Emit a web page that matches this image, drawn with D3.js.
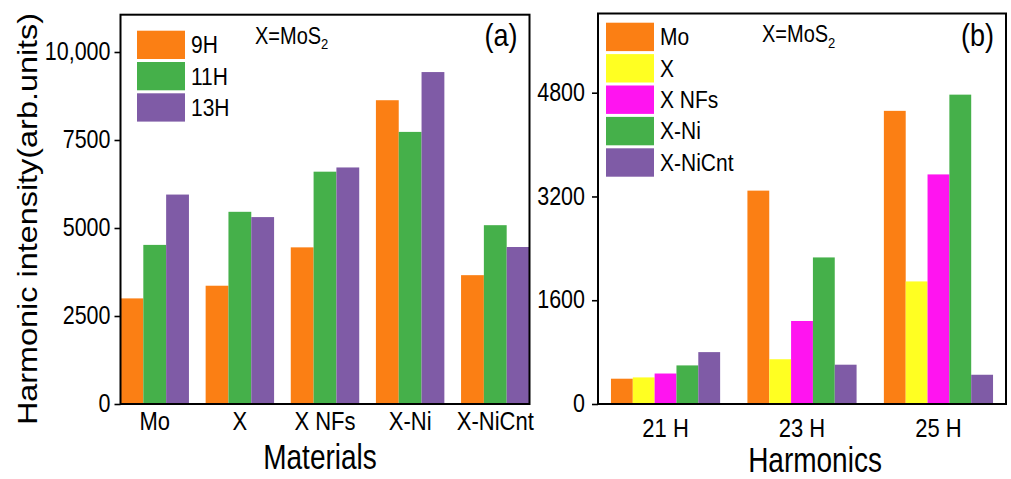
<!DOCTYPE html>
<html lang="en">
<head>
<meta charset="UTF-8">
<title>Harmonic intensity</title>
<style>
  body { margin: 0; background: #fff; }
  svg { display: block; font-family: "Liberation Sans", Arial, sans-serif; }
</style>
</head>
<body>
<svg id="chart" width="1011" height="479"></svg>
<script src="https://d3js.org/d3.v7.min.js"></script>
<script>
// panel (a): intensity per material
const materials = ["Mo", "X", "X NFs", "X-Ni", "X-NiCnt"];
const seriesA = ["9H", "11H", "13H"];
const h9 = [3000, 3360, 4450, 8630, 3660];
const h11 = [4520, 5460, 6600, 7730, 5080];
const h13 = [5950, 5310, 6720, 9430, 4460];
const ticksA = [0, 2500, 5000, 7500, 10000];

// panel (b): intensity per harmonic order
const harmonics = ["21 H", "23 H", "25 H"];
const seriesB = ["Mo", "X", "X NFs", "X-Ni", "X-NiCnt"];
const moVals = [390, 3290, 4520];
const xVals = [410, 690, 1890];
const xNFsVals = [470, 1280, 3540];
const xNiVals = [595, 2260, 4770];
const xNiCntVals = [800, 606, 451];
const ticksB = [0, 1600, 3200, 4800];

const orange = "#fb7f14", green = "#45b04a", purple = "#7f5ba6",
      yellow = "#ffff22", magenta = "#ff14f0";
const colorsA = [orange, green, purple];
const colorsB = [orange, yellow, magenta, green, purple];

const svg = d3.select("#chart");
const SY = 1.18; // the original figure is slightly stretched vertically

function stext(g, x, y, txt, size, anchor, sy) {
  return g.append("text")
    .attr("transform", `translate(${x},${y}) scale(1,${sy || SY})`)
    .attr("font-size", size)
    .attr("text-anchor", anchor || "start")
    .attr("fill", "#000")
    .text(txt);
}

function panel(opts) {
  const g = svg.append("g");
  const x0 = d3.scaleBand().domain(opts.cats).range(opts.xr)
    .paddingInner(opts.pi).paddingOuter(opts.po);
  const x1 = d3.scaleBand().domain(opts.series).range([0, x0.bandwidth()]);
  const y = d3.scaleLinear().domain(opts.yd).range(opts.yr);

  const rows = opts.cats.map((c, i) => ({cat: c, vals: opts.values.map(v => v[i])}));
  const grp = g.selectAll("g.grp").data(rows).join("g")
    .attr("transform", d => `translate(${x0(d.cat)},0)`);
  grp.selectAll("rect").data(d => d.vals.map((v, j) => ({s: opts.series[j], v, j})))
    .join("rect")
    .attr("x", d => x1(d.s))
    .attr("width", x1.bandwidth())
    .attr("y", d => y(d.v))
    .attr("height", d => y(0) - y(d.v))
    .attr("fill", d => opts.colors[d.j]);

  // frame
  g.append("rect")
    .attr("x", opts.xr[0]).attr("y", opts.top)
    .attr("width", opts.xr[1] - opts.xr[0]).attr("height", y(0) - opts.top)
    .attr("fill", "none").attr("stroke", "#000").attr("stroke-width", 2);

  // y axis
  const ya = g.append("g").attr("transform", `translate(${opts.xr[0]},0)`)
    .call(d3.axisLeft(y).tickValues(opts.ticks).tickSize(6).tickSizeOuter(0)
      .tickPadding(opts.tpad).tickFormat(opts.fmt));
  ya.select(".domain").remove();
  ya.selectAll("line").attr("stroke", "#000").attr("stroke-width", 1.6);
  ya.selectAll("text").attr("font-size", 21.5).attr("fill", "#000")
    .attr("font-family", "Liberation Sans, Arial, sans-serif")
    .attr("transform", `scale(1,${SY})`).attr("dy", "0.3em");

  // x axis labels
  const xa = g.append("g").attr("transform", `translate(0,${y(0)})`)
    .call(d3.axisBottom(x0).tickSize(0).tickPadding(opts.xpad));
  xa.select(".domain").remove();
  xa.selectAll("text").attr("font-size", 22).attr("fill", "#000")
    .attr("font-family", "Liberation Sans, Arial, sans-serif")
    .attr("transform", `scale(1,${SY})`);

  // legend
  const lg = g.append("g");
  opts.series.forEach((s, i) => {
    const ty = opts.leg[1] + i * opts.leg[2];
    lg.append("rect").attr("x", opts.leg[0]).attr("y", ty)
      .attr("width", 48).attr("height", opts.leg[2] - 3)
      .attr("fill", opts.colors[i]);
    stext(lg, opts.leg[0] + 54, ty + 22.5, s, 21, "start", 1.1);
  });

  // annotation X=MoS2
  const t = g.append("text")
    .attr("transform", `translate(${opts.note[0]},${opts.note[1]}) scale(1,${SY})`)
    .attr("font-size", 20).attr("fill", "#000");
  t.append("tspan").text("X=MoS");
  t.append("tspan").attr("font-size", 13).attr("dy", 5).text("2");

  // panel letter
  stext(g, opts.xr[1] - 12, 46, opts.letter, 27, "end");

  // x title
  stext(g, opts.title[0], opts.title[1], opts.title[2], 28, "middle", 1.22);
  return g;
}

panel({
  cats: materials, series: seriesA, values: [h9, h11, h13], colors: colorsA,
  xr: [120.5, 529.5], pi: 0.196, po: 0.0, yd: [0, 10000], yr: [404, 52],
  top: 14.7, ticks: ticksA, tpad: 4, xpad: 6,
  fmt: d => d >= 10000 ? d3.format(",")(d) : String(d),
  leg: [137, 30.7, 31.3], note: [255, 43.5], letter: "(a)",
  title: [320, 469, "Materials"]
});

panel({
  cats: harmonics, series: seriesB, values: [moVals, xVals, xNFsVals, xNiVals, xNiCntVals],
  colors: colorsB,
  xr: [598, 1006], pi: 0.2, po: 0.095, yd: [0, 4800], yr: [404, 92.7],
  top: 13.5, ticks: ticksB, tpad: 7, xpad: 12,
  fmt: d => String(d),
  leg: [606, 22.7, 31.4], note: [762, 41.7], letter: "(b)",
  title: [815, 472, "Harmonics"]
});

// y title
svg.append("text")
  .attr("transform", "translate(37,219) rotate(-90) scale(1.2,1)")
  .attr("font-size", 27).attr("text-anchor", "middle").attr("fill", "#000")
  .text("Harmonic intensity(arb.units)");
</script>
</body>
</html>
